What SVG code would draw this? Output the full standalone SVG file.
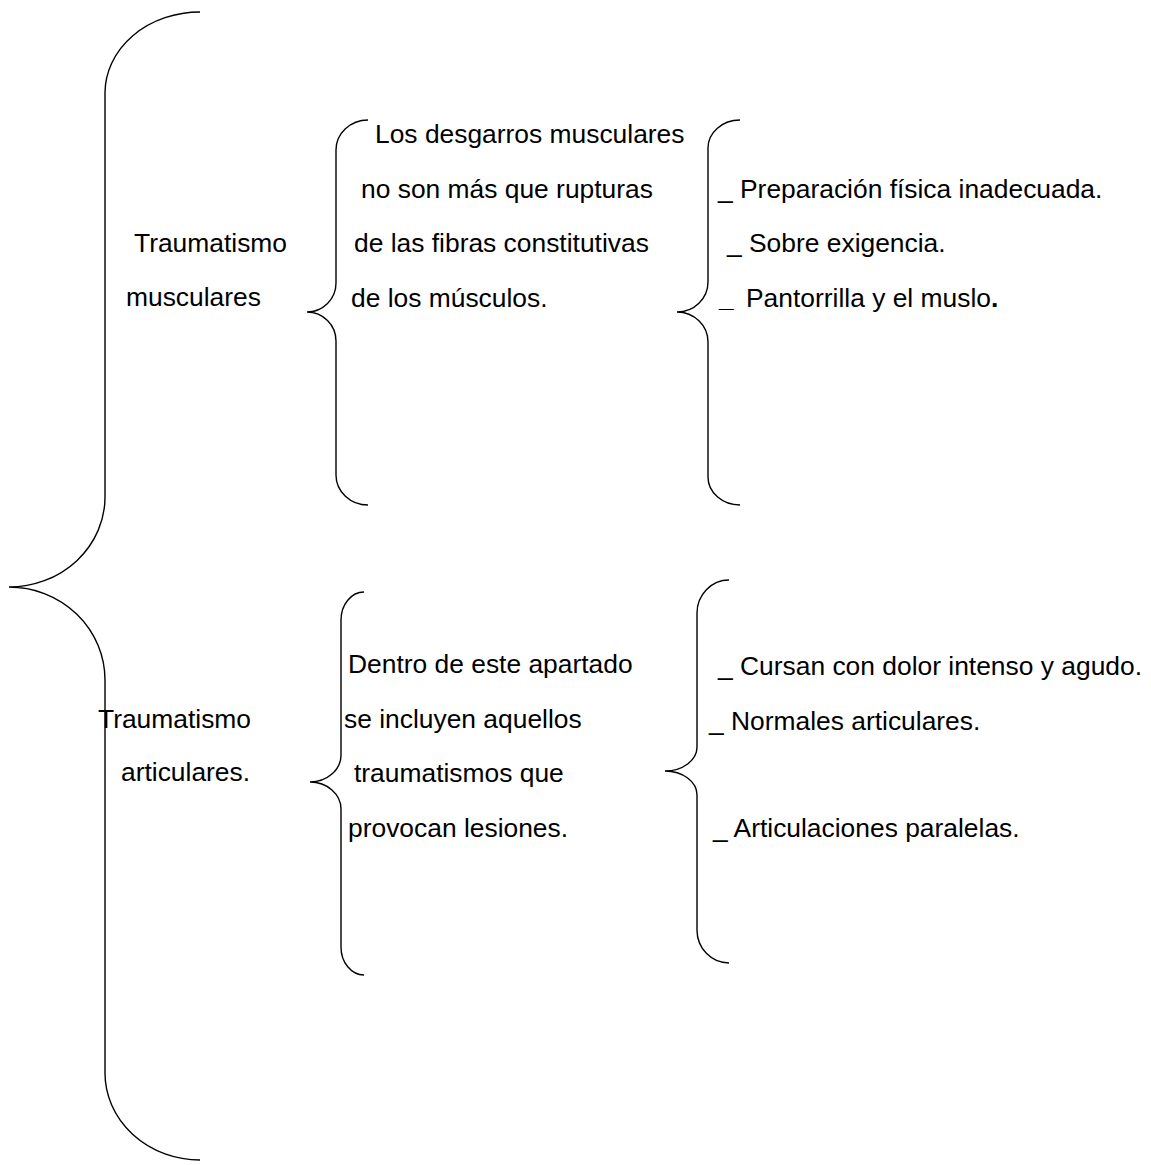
<svg xmlns="http://www.w3.org/2000/svg" width="1151" height="1165" viewBox="0 0 1151 1165">
<style>
.br{fill:none;stroke:#000;stroke-width:1.4}
text{font-family:"Liberation Sans",Arial,sans-serif;font-size:26.4px;fill:#000}
</style>
<rect width="1151" height="1165" fill="#fff"/>
<g id="connectors">
<path class="br" d="M200,12 A95,81 0 0 0 105,93 L105,497 A96,90 0 0 1 9,587 A96,93 0 0 1 105,680 L105,1073 A95,87 0 0 0 200,1160"/>
<path class="br" d="M368,120 A32,30 0 0 0 336,150 L336,283 A29,29 0 0 1 307,312 A29,29 0 0 1 336,341 L336,475 A32,30 0 0 0 368,505"/>
<path class="br" d="M740,120 A32,28 0 0 0 708,148 L708,282 A31,30 0 0 1 677,312 A31,30 0 0 1 708,342 L708,477 A32,28 0 0 0 740,505"/>
<path class="br" d="M364,592 A23,28 0 0 0 341,620 L341,755 A31,27 0 0 1 310,782 A31,27 0 0 1 341,809 L341,947 A23,28 0 0 0 364,975"/>
<path class="br" d="M729,580 A32,33 0 0 0 697,613 L697,747 A32,24 0 0 1 665,771 A32,24 0 0 1 697,795 L697,930 A32,33 0 0 0 729,963"/>
</g>
<g id="node-musculares">
<text x="134" y="252">Traumatismo</text>
<text x="126" y="306">musculares</text>
</g>
<g id="node-desgarros">
<text x="375" y="143">Los desgarros musculares</text>
<text x="361" y="198">no son más que rupturas</text>
<text x="354" y="252">de las fibras constitutivas</text>
<text x="351" y="307">de los músculos.</text>
</g>
<g id="node-causas-musculares">
<text x="718" y="198">_ Preparación física inadecuada.</text>
<text x="727" y="252">_ Sobre exigencia.</text>
<text x="719" y="307"><tspan font-weight="bold">_</tspan><tspan x="746">Pantorrilla y el muslo</tspan><tspan font-weight="bold">.</tspan></text>
</g>
<g id="node-articulares">
<text x="98" y="728">Traumatismo</text>
<text x="121" y="781">articulares.</text>
</g>
<g id="node-dentro">
<text x="348" y="673">Dentro de este apartado</text>
<text x="344" y="728">se incluyen aquellos</text>
<text x="354" y="782">traumatismos que</text>
<text x="348" y="837">provocan lesiones.</text>
</g>
<g id="node-causas-articulares">
<text x="718" y="675">_ Cursan con dolor intenso y agudo.</text>
<text x="709" y="730">_ Normales articulares.</text>
<text x="713" y="837">_ Articulaciones paralelas.</text>
</g>
</svg>
